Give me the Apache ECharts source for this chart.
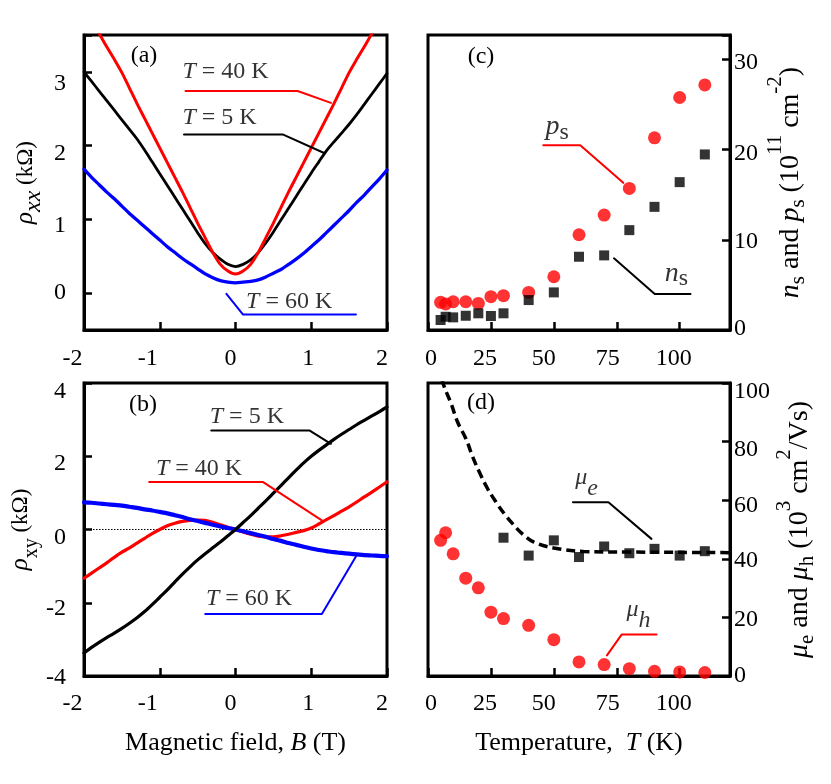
<!DOCTYPE html>
<html>
<head>
<meta charset="utf-8">
<script src="https://cdn.jsdelivr.net/npm/echarts@6/dist/echarts.min.js"></script>
<style>
html,body{margin:0;padding:0;background:#fff;}
#chart{width:831px;height:784px;}
</style>
</head>
<body>
<div id="chart"></div>
<script>
// ---------------- data ----------------
const fieldB = [-2.0,-1.9,-1.8,-1.7,-1.6,-1.5,-1.4,-1.3,-1.2,-1.1,-1.0,-0.9,-0.8,-0.7,-0.6,-0.5,-0.4,-0.3,-0.2,-0.1,
  0.0,0.1,0.2,0.3,0.4,0.5,0.6,0.7,0.8,0.9,1.0,1.1,1.2,1.3,1.4,1.5,1.6,1.7,1.8,1.9,2.0];

// panel (a): rho_xx (kOhm)
const rhoXX_5K = [3.00,2.87,2.74,2.61,2.48,2.35,2.22,2.09,1.94,1.78,1.62,1.46,1.30,1.14,0.98,0.82,0.67,0.55,0.46,0.39,
  0.36,0.39,0.45,0.55,0.68,0.83,0.99,1.15,1.31,1.47,1.63,1.78,1.93,2.05,2.17,2.29,2.42,2.56,2.70,2.84,2.98];
const rhoXX_40K = [3.88,3.70,3.52,3.34,3.17,2.99,2.78,2.57,2.37,2.17,1.97,1.77,1.57,1.37,1.16,0.95,0.75,0.55,0.39,0.30,
  0.26,0.30,0.39,0.55,0.75,0.95,1.16,1.37,1.57,1.77,1.97,2.17,2.37,2.57,2.78,2.99,3.17,3.34,3.52,3.70,3.88];
const rhoXX_60K = [1.68,1.57,1.47,1.37,1.28,1.18,1.08,0.99,0.90,0.81,0.72,0.63,0.55,0.47,0.40,0.33,0.26,0.21,0.17,0.15,
  0.14,0.15,0.16,0.18,0.22,0.27,0.32,0.39,0.46,0.54,0.63,0.72,0.82,0.92,1.02,1.12,1.23,1.33,1.44,1.55,1.67];

// panel (b): rho_xy (kOhm)
const rhoXY_5K = [-3.37,-3.22,-3.08,-2.95,-2.83,-2.70,-2.56,-2.41,-2.24,-2.05,-1.85,-1.65,-1.43,-1.22,-1.02,-0.83,-0.66,-0.50,-0.34,-0.17,
  0.00,0.19,0.38,0.58,0.78,0.99,1.20,1.41,1.62,1.82,2.00,2.16,2.31,2.46,2.60,2.73,2.86,2.98,3.10,3.22,3.35];
const rhoXY_40K = [-1.33,-1.19,-1.05,-0.91,-0.76,-0.62,-0.50,-0.37,-0.24,-0.11,0.00,0.10,0.17,0.22,0.25,0.26,0.25,0.20,0.13,0.06,
  0.00,-0.07,-0.13,-0.18,-0.20,-0.20,-0.17,-0.13,-0.08,-0.03,0.04,0.15,0.27,0.38,0.50,0.62,0.75,0.89,1.02,1.16,1.30];
const rhoXY_60K = [0.74,0.73,0.71,0.69,0.67,0.65,0.62,0.59,0.55,0.52,0.48,0.44,0.39,0.34,0.28,0.23,0.18,0.13,0.08,0.04,
  0.00,-0.05,-0.10,-0.15,-0.20,-0.26,-0.31,-0.37,-0.42,-0.47,-0.52,-0.56,-0.59,-0.62,-0.64,-0.66,-0.68,-0.70,-0.71,-0.72,-0.73];
const zeroLineB = [-2, 2];
const zeroLineV = [0, 0];

// panel (c): carrier densities (1e11 cm^-2)
const tempC = [5, 7, 10, 15, 20, 25, 30, 40, 50, 60, 70, 80, 90, 100, 110];
const holeDensity = [3.07, 2.88, 3.13, 3.13, 2.95, 3.69, 3.80, 4.17, 5.90, 10.56, 12.74, 15.69, 21.3, 25.77, 27.17];
const electronDensity = [1.11, 1.47, 1.40, 1.58, 1.85, 1.55, 1.85, 3.32, 4.17, 8.12, 8.27, 11.07, 13.65, 16.39, 19.46];

// panel (d): mobilities (1e3 cm^2/Vs)
const tempHole = [5, 7, 10, 15, 20, 25, 30, 40, 50, 60, 70, 80, 90, 100, 110];
const holeMobility = [46.3, 48.9, 41.7, 33.4, 30.1, 21.8, 19.6, 17.3, 12.4, 4.8, 3.9, 2.5, 1.6, 1.4, 1.2];
const tempElec = [30, 40, 50, 60, 70, 80, 90, 100, 110];
const elecMobility = [47.2, 41.1, 46.3, 40.6, 44.2, 41.9, 43.4, 41.1, 42.6];
const tempFit = [4, 6.3, 9.2, 11.8, 15.1, 17.8, 20.4, 23.7, 27, 30.3, 33.6, 37.5, 42.1, 50, 61.8, 80, 100, 120];
const elecFit = [106, 99.1, 92.9, 86.6, 80.9, 74.7, 69.6, 63.9, 59.4, 55.4, 52.0, 48.5, 45.7, 43.7, 42.5, 42.3, 42.2, 42.1];

// tick labels
const ticksB = [-2, -1, 0, 1, 2];
const ticksRhoXX = [0, 1, 2, 3];
const ticksRhoXY = [-4, -2, 0, 2, 4];
const ticksT = [0, 25, 50, 75, 100];
const ticksDensity = [0, 10, 20, 30];
const ticksMobility = [0, 20, 40, 60, 80, 100];

// annotation leader lines (data coordinates) and label anchors
const leadA40 = [[-0.66, 2.74], [0.82, 2.74], [1.26, 2.58]];
const leadA5  = [[-0.68, 2.15], [0.63, 2.15], [1.17, 1.90]];
const leadA60 = [[-0.12, -0.01], [0.10, -0.29], [1.59, -0.29]];
const noteA40 = [-0.70, 3.00], noteA5 = [-0.70, 2.38], noteA60 = [0.14, -0.12];
const leadB5  = [[-0.32, 2.70], [0.98, 2.70], [1.26, 2.34]];
const leadB40 = [[-1.14, 1.30], [0.36, 1.30], [1.14, 0.25]];
const leadB60 = [[-0.40, -2.31], [1.14, -2.31], [1.59, -0.74]];
const noteB5 = [-0.34, 3.07], noteB40 = [-1.05, 1.67], noteB60 = [-0.39, -1.90];
const leadPs = [[45.8, 20.49], [60.5, 20.49], [77.6, 16.31]];
const leadNs = [[73.9, 7.94], [90.1, 3.99], [104.3, 3.99]];
const notePs = [46.7, 22.5], noteNs = [94.1, 6.3];
const leadMuE = [[57.6, 59.3], [71.7, 59.3], [88.8, 46.8]];
const leadMuH = [[71.1, 7.05], [77, 14.2], [90.8, 14.2]];
const noteMuE = [58.5, 67.8], noteMuH = [78.9, 22.6];

// ---------------- styling helpers ----------------
const FONT = '"Liberation Serif", "Times New Roman", serif';
const RED = '#ff0000', BLUE = '#0000ff', BLACK = '#000000';
const R = (size, extra) => Object.assign({fontFamily: FONT, fontSize: size, color: '#000'}, extra || {});
const zip = (xs, ys) => xs.map((x, i) => [x, ys[i]]);
const keyOf = v => 'v' + String(v).replace('-', 'm').replace('.', 'p');

// labels of the original figure sit slightly off their ticks; offsets in px
function tickLabels(ticks, offs, horiz, margin) {
  const rich = {};
  ticks.forEach(t => {
    const s = offs[t] || 0;
    const p = horiz ? (s < 0 ? [0, -2 * s, 0, 0] : [0, 0, 0, 2 * s])
                    : (s > 0 ? [2 * s, 0, 0, 0] : [0, 0, -2 * s, 0]);
    rich[keyOf(t)] = R(24, {padding: p});
  });
  return {
    show: true, margin: margin, fontSize: 24, color: '#000', fontFamily: FONT,
    formatter: v => (ticks.indexOf(v) >= 0 ? '{' + keyOf(v) + '|' + v + '}' : ''),
    rich: rich
  };
}
function axis(gi, min, max, extra) {
  return Object.assign({
    type: 'value', gridIndex: gi, min: min, max: max,
    splitLine: {show: false},
    axisLine: {show: true, onZero: false, lineStyle: {color: '#000', width: 3}},
    axisTick: {show: true, inside: true, length: 8, lineStyle: {color: '#000', width: 2.5}}
  }, extra);
}
function curve(ax, data, color, width, extra) {
  return Object.assign({
    type: 'line', xAxisIndex: ax, yAxisIndex: ax, data: data,
    symbol: 'none', showSymbol: false, clip: true, silent: true,
    lineStyle: {color: color, width: width, join: 'round', cap: 'round'}, itemStyle: {color: color}
  }, extra || {});
}
const SMOOTH = {smooth: 0.3};
function note(ax, pt, text, rich) {
  return {
    type: 'scatter', xAxisIndex: ax, yAxisIndex: ax, data: [pt], symbolSize: 0, silent: true,
    itemStyle: {color: 'rgba(0,0,0,0)'},
    label: {show: true, position: 'right', distance: 0, formatter: text, rich: rich,
            fontFamily: FONT, fontSize: 24, color: '#000'}
  };
}
const richT = {i: R(24, {fontStyle: 'italic'}), r: R(24)};
const richPN = {i: R(28, {fontStyle: 'italic'}), s: R(24, {padding: [12, 0, 0, 0]})};
const richMu = {i: R(24, {fontStyle: 'italic'}), s: R(24, {fontStyle: 'italic', padding: [22, 0, 0, 0]})};

const gridStyle = {show: true, borderColor: '#000', borderWidth: 3, backgroundColor: 'transparent'};
const richRight = {i: R(28, {fontStyle: 'italic'}), r: R(28), sb: R(21, {padding: [16, 0, 0, 0]}), sp: R(21, {padding: [0, 0, 30, 0]})};

const option = {
  animation: false,
  backgroundColor: '#fff',
  textStyle: {fontFamily: FONT},
  grid: [
    Object.assign({left: 84, top: 35, width: 303, height: 295}, gridStyle),
    Object.assign({left: 84, top: 383, width: 303, height: 293}, gridStyle),
    Object.assign({left: 428, top: 35, width: 302, height: 295}, gridStyle),
    Object.assign({left: 428, top: 383, width: 302, height: 293}, gridStyle)
  ],
  xAxis: [
    axis(0, -2, 2, {interval: 1, axisLabel: tickLabels(ticksB, {'-2': -11.5, '-1': -12, 0: -5, 1: -3, 2: -5}, true, 17)}),
    axis(1, -2, 2, {interval: 1, axisLabel: tickLabels(ticksB, {'-2': -11.5, '-1': -12, 0: -5, 1: -3, 2: -5}, true, 16),
      name: '{r|Magnetic field, }{i|B}{r| (T)}', nameLocation: 'middle', nameGap: 54,
      nameTextStyle: {rich: {r: R(26), i: R(26, {fontStyle: 'italic'})}}}),
    axis(2, 0, 120, {interval: 25, axisLabel: tickLabels(ticksT, {0: 3, 25: -6, 50: -10, 75: -9, 100: -6}, true, 17)}),
    axis(3, 0, 120, {interval: 25, axisLabel: tickLabels(ticksT, {0: 3, 25: -6, 50: -10, 75: -9, 100: -6}, true, 16),
      name: '{r|Temperature,  }{i|T}{r| (K)}', nameLocation: 'middle', nameGap: 54,
      nameTextStyle: {rich: {r: R(26), i: R(26, {fontStyle: 'italic'})}}})
  ],
  yAxis: [
    axis(0, -0.5, 3.5, {splitNumber: 4, position: 'left',
      axisLabel: tickLabels(ticksRhoXX, {0: 0, 1: 6, 2: 8, 3: 12}, false, 18),
      name: '{i|ρ}{sx|xx}{r| (kΩ)}', nameLocation: 'middle', nameRotate: 90, nameGap: 38,
      nameTextStyle: {rich: {i: R(25, {fontStyle: 'italic'}), sx: R(24, {fontStyle: 'italic', padding: [17, 0, 0, 0]}), r: R(23)}}}),
    axis(1, -4, 4, {interval: 2, position: 'left',
      axisLabel: tickLabels(ticksRhoXY, {'-4': 2, '-2': 6, 0: 8, 2: 7, 4: 9}, false, 18),
      name: '{i|ρ}{sy|xy}{r| (kΩ)}', nameLocation: 'middle', nameRotate: 90, nameGap: 42,
      nameTextStyle: {rich: {i: R(25, {fontStyle: 'italic'}), sy: R(20, {padding: [23, 0, 0, 0]}), r: R(23)}}}),
    axis(2, 0, 32.7, {interval: 10, position: 'right',
      axisLabel: tickLabels(ticksDensity, {0: -1.5, 10: 2, 20: 4, 30: 3}, false, 4),
      name: '{i|n}{sb|s}{r| and }{i|p}{sb|s}{r| (10}{sp|11}{r| cm}{sp|-2}{r|)}', nameLocation: 'middle', nameRotate: 90, nameGap: 35,
      nameTextStyle: {rich: richRight}}),
    axis(3, 0, 100, {interval: 20, position: 'right',
      axisLabel: tickLabels(ticksMobility, {0: 0, 20: 2, 40: 2, 60: 6, 80: 8, 100: 9}, false, 4),
      name: '{i|μ}{sb|e}{r| and }{i|μ}{sb|h}{r| (10}{sp|3}{r| cm}{sp|2}{r|/Vs)}', nameLocation: 'middle', nameRotate: 90, nameGap: 33,
      nameTextStyle: {rich: richRight}})
  ],
  series: [
    // (a)
    curve(0, zip(fieldB, rhoXX_5K), BLACK, 2.8, SMOOTH),
    curve(0, zip(fieldB, rhoXX_40K), RED, 3, SMOOTH),
    curve(0, zip(fieldB, rhoXX_60K), BLUE, 3.3, SMOOTH),
    curve(0, leadA40, RED, 2),
    curve(0, leadA5, BLACK, 2),
    curve(0, leadA60, BLUE, 2),
    note(0, noteA40, '{i|T}{r| = 40 K}', richT),
    note(0, noteA5, '{i|T}{r| = 5 K}', richT),
    note(0, noteA60, '{i|T}{r| = 60 K}', richT),
    // (b)
    curve(1, zip(zeroLineB, zeroLineV), BLACK, 1.2, {lineStyle: {color: BLACK, width: 1.2, type: [1.5, 1.5]}}),
    curve(1, zip(fieldB, rhoXY_40K), RED, 3.2, SMOOTH),
    curve(1, zip(fieldB, rhoXY_60K), BLUE, 4.2, SMOOTH),
    curve(1, zip(fieldB, rhoXY_5K), BLACK, 3.2, SMOOTH),
    curve(1, leadB5, BLACK, 2),
    curve(1, leadB40, RED, 2),
    curve(1, leadB60, BLUE, 2),
    note(1, noteB5, '{i|T}{r| = 5 K}', richT),
    note(1, noteB40, '{i|T}{r| = 40 K}', richT),
    note(1, noteB60, '{i|T}{r| = 60 K}', richT),
    // (c)
    {type: 'scatter', xAxisIndex: 2, yAxisIndex: 2, data: zip(tempC, holeDensity), symbol: 'circle', symbolSize: 13, itemStyle: {color: RED}, silent: true},
    {type: 'scatter', xAxisIndex: 2, yAxisIndex: 2, data: zip(tempC, electronDensity), symbol: 'rect', symbolSize: 10, itemStyle: {color: BLACK}, silent: true},
    curve(2, leadPs, RED, 2),
    curve(2, leadNs, BLACK, 2),
    note(2, notePs, '{i|p}{s|s}', richPN),
    note(2, noteNs, '{i|n}{s|s}', richPN),
    // (d)
    curve(3, zip(tempFit, elecFit), BLACK, 3.5, {smooth: 0.4, lineStyle: {color: BLACK, width: 3.5, type: [9, 5]}}),
    {type: 'scatter', xAxisIndex: 3, yAxisIndex: 3, data: zip(tempHole, holeMobility), symbol: 'circle', symbolSize: 13, itemStyle: {color: RED}, silent: true},
    {type: 'scatter', xAxisIndex: 3, yAxisIndex: 3, data: zip(tempElec, elecMobility), symbol: 'rect', symbolSize: 10, itemStyle: {color: BLACK}, silent: true},
    curve(3, leadMuE, BLACK, 2),
    curve(3, leadMuH, RED, 2),
    note(3, noteMuE, '{i|μ}{s|e}', richMu),
    note(3, noteMuH, '{i|μ}{s|h}', richMu)
  ],
  graphic: [
    {type: 'text', x: 144, y: 56, style: {text: '(a)', font: '24px ' + FONT, fill: '#000', align: 'center', verticalAlign: 'middle'}},
    {type: 'text', x: 143, y: 405, style: {text: '(b)', font: '24px ' + FONT, fill: '#000', align: 'center', verticalAlign: 'middle'}},
    {type: 'text', x: 481, y: 57, style: {text: '(c)', font: '24px ' + FONT, fill: '#000', align: 'center', verticalAlign: 'middle'}},
    {type: 'text', x: 481, y: 403, style: {text: '(d)', font: '24px ' + FONT, fill: '#000', align: 'center', verticalAlign: 'middle'}}
  ]
};

const chart = echarts.init(document.getElementById('chart'), null, {renderer: 'canvas'});
chart.setOption(option);
</script>
</body>
</html>
